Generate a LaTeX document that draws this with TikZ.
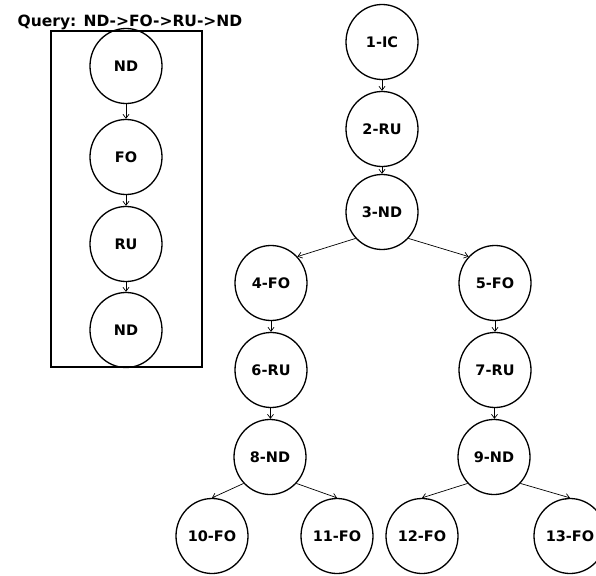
\documentclass[tikz,border=0pt]{standalone}
\usepackage{fontspec}
\setmainfont{DejaVu Sans}
\usetikzlibrary{arrows.meta,shapes.geometric}
\begin{document}
\begin{tikzpicture}[x=1pt,y=-1pt,
  st/.style={ellipse,draw,line width=1.3pt,minimum width=72pt,minimum height=75pt,inner sep=0pt,
    font=\fontsize{14.5}{16}\selectfont\bfseries},
  arr/.style={draw,line width=0.7pt,-{Straight Barb[length=4pt,width=6pt]}},
  qbox/.style={draw,line width=1.5pt}]
\useasboundingbox (0,0) rectangle (596,575);
\fill[white] (0,0) rectangle (596,575);
% query
\node[font=\fontsize{15.5}{17}\selectfont\bfseries,anchor=base] (qt) at (130,27) {Query: ND->FO->RU->ND};
\draw[qbox] (51,31) rectangle (202,367);
\node[st] (q1) at (126,66) {ND};
\node[st] (q2) at (126,157) {FO};
\node[st] (q3) at (126,244) {RU};
\node[st] (q4) at (126,330) {ND};
\draw[arr] (q1) -- (q2);
\draw[arr] (q2) -- (q3);
\draw[arr] (q3) -- (q4);
% tree
\node[st] (n1) at (382,42) {1-IC};
\node[st] (n2) at (382,129) {2-RU};
\node[st] (n3) at (382,212) {3-ND};
\node[st] (n4) at (271,283) {4-FO};
\node[st] (n5) at (495,283) {5-FO};
\node[st] (n6) at (271,370) {6-RU};
\node[st] (n7) at (495,370) {7-RU};
\node[st] (n8) at (270,457) {8-ND};
\node[st] (n9) at (494,457) {9-ND};
\node[st] (n10) at (212,536) {10-FO};
\node[st] (n11) at (337,536) {11-FO};
\node[st] (n12) at (422,536) {12-FO};
\node[st] (n13) at (570,536) {13-FO};
\draw[arr] (n1) -- (n2);
\draw[arr] (n2) -- (n3);
\draw[arr] (n3.-135) -- (n4.45);
\draw[arr] (n3.-45) -- (n5.135);
\draw[arr] (n4) -- (n6);
\draw[arr] (n5) -- (n7);
\draw[arr] (n6) -- (n8);
\draw[arr] (n7) -- (n9);
\draw[arr] (n8.-135) -- (n10.north);
\draw[arr] (n8.-45) -- (n11.north);
\draw[arr] (n9.-135) -- (n12.north);
\draw[arr] (n9.-45) -- (n13.north);
\end{tikzpicture}
\end{document}
